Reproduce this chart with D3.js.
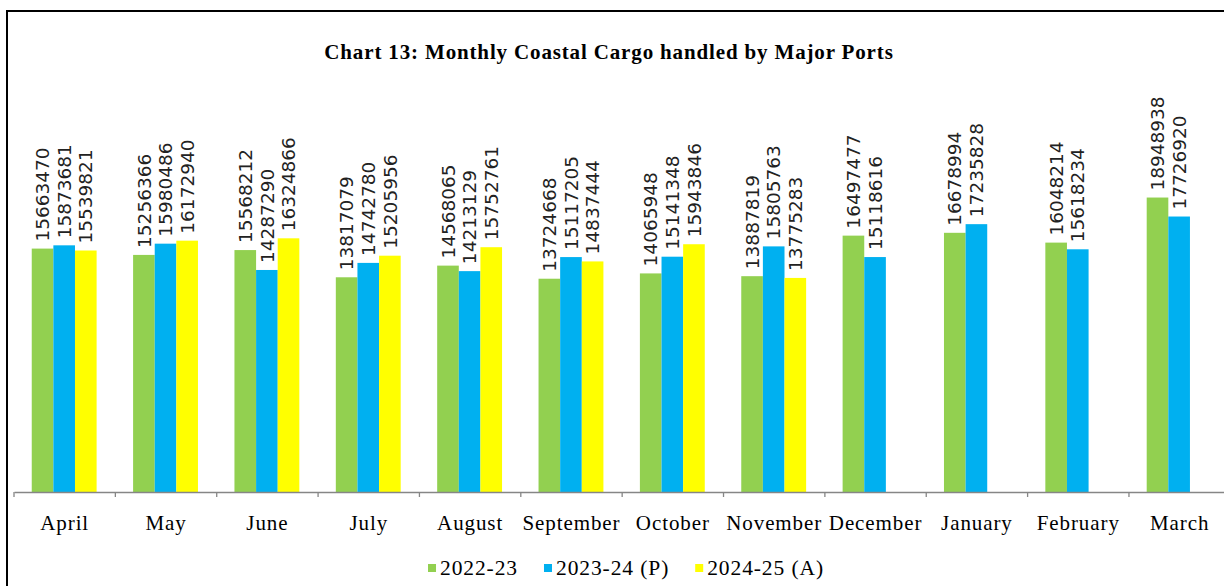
<!DOCTYPE html>
<html>
<head>
<meta charset="utf-8">
<script src="https://cdn.jsdelivr.net/npm/d3@7"></script>
<style>
  html, body { margin: 0; padding: 0; background: #fff; }
  svg { display: block; }
</style>
</head>
<body>
<svg id="chart" width="1224" height="586"></svg>
<script>
const months = ["April","May","June","July","August","September","October","November","December","January","February","March"];
const seriesNames = ["2022-23", "2023-24 (P)", "2024-25 (A)"];
const s2022 = [15663470,15256366,15568212,13817079,14568065,13724668,14065948,13887819,16497477,16678994,16048214,18948938];
const s2023 = [15873681,15980486,14287290,14742780,14213129,15117205,15141348,15805763,15118616,17235828,15618234,17726920];
const s2024 = [15539821,16172940,16324866,15205956,15752761,14837444,15943846,13775283,null,null,null,null];
const colors = ["#92D050", "#00B0F0", "#FFFF00"];
const title = "Chart 13: Monthly Coastal Cargo handled by Major Ports";

const seriesVals = [s2022, s2023, s2024];
const rows = [];
months.forEach((m, i) => {
  seriesVals.forEach((arr, j) => {
    if (arr[i] != null) rows.push({month: m, series: seriesNames[j], value: arr[i], j});
  });
});

const svg = d3.select("#chart");

// frame
svg.append("rect").attr("x", 7).attr("y", 11).attr("width", 1400).attr("height", 800)
  .attr("fill", "none").attr("stroke", "#000").attr("stroke-width", 2);

const baseY = 492;
const x = d3.scaleBand().domain(months).range([14, 14 + 12 * 101.36]).paddingInner(0).paddingOuter(0);
const bw = x.bandwidth();
const xs = d3.scaleBand().domain(seriesNames).range([bw * 0.175, bw * 0.815]);
const y = d3.scaleLinear().domain([0, 20000000]).range([baseY, baseY - 20 * 15.54]);

// title
svg.append("text").attr("x", 609).attr("y", 59).attr("text-anchor", "middle")
  .attr("font-family", "'Liberation Serif', 'Times New Roman', serif")
  .attr("font-weight", "bold").attr("font-size", 21).attr("letter-spacing", "0.85px")
  .attr("fill", "#000").text(title);

// bars
svg.append("g").selectAll("rect").data(rows).join("rect")
  .attr("x", d => x(d.month) + xs(d.series))
  .attr("y", d => y(d.value))
  .attr("width", xs.bandwidth())
  .attr("height", d => baseY - y(d.value))
  .attr("fill", d => colors[d.j]);

// value labels
svg.append("g").selectAll("text").data(rows).join("text")
  .attr("transform", d => `translate(${x(d.month) + xs(d.series) + xs.bandwidth() / 2},${y(d.value) - 7}) rotate(-90)`)
  .attr("dy", "0.36em")
  .attr("font-family", "'DejaVu Sans', sans-serif")
  .attr("font-size", 18.5)
  .attr("fill", "#222")
  .text(d => d.value);

// axis
const axis = svg.append("g").attr("transform", `translate(0,${baseY})`)
  .call(d3.axisBottom(x).tickSize(0).tickSizeOuter(0));
axis.select(".domain").attr("stroke", "#868686").attr("stroke-width", 1.3);
axis.selectAll(".tick text")
  .attr("y", 38).attr("dy", null)
  .attr("font-family", "'Liberation Serif', 'Times New Roman', serif")
  .attr("font-size", 21).attr("letter-spacing", "0.9px").attr("fill", "#000");
// boundary ticks
svg.append("g").selectAll("line").data(months.concat(["__end"])).join("line")
  .attr("x1", (d, i) => x.range()[0] + i * bw).attr("x2", (d, i) => x.range()[0] + i * bw)
  .attr("y1", baseY).attr("y2", baseY + 5)
  .attr("stroke", "#868686").attr("stroke-width", 1.3);

// legend
const leg = svg.append("g");
let lx = 0;
const items = [];
seriesNames.forEach((n, j) => {
  const g = leg.append("g");
  g.append("rect").attr("x", 0).attr("y", -11).attr("width", 8).attr("height", 8).attr("fill", colors[j]);
  const t = g.append("text").attr("x", 12).attr("y", 0)
    .attr("font-family", "'Liberation Serif', 'Times New Roman', serif")
    .attr("font-size", 21.5).attr("letter-spacing", "0.9px").attr("fill", "#000").text(n);
  const w = 12 + t.node().getComputedTextLength();
  g.attr("transform", `translate(${lx},0)`);
  lx += w + 26;
});
const totalW = lx - 26;
leg.attr("transform", `translate(${626 - totalW / 2},575)`);
</script>
</body>
</html>
